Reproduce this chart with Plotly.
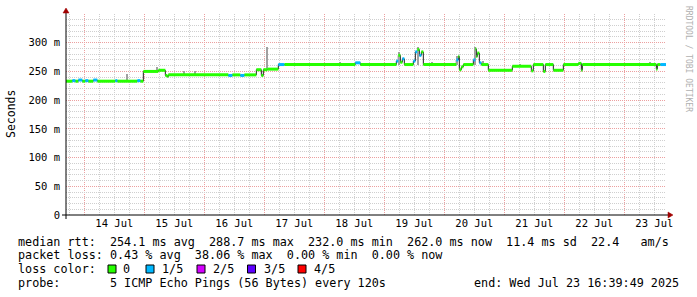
import plotly.graph_objects as go

# ---------------- data ----------------
START = "2025-07-13 16:39:49"
END = "2025-07-23 16:39:49"

# median rtt runs: start of run, median rtt (ms), lost pings out of 5
seg_start = [
    "2025-07-13 16:40", "2025-07-13 19:12", "2025-07-13 20:24", "2025-07-13 21:36",
    "2025-07-13 23:12", "2025-07-14 00:24", "2025-07-14 01:36", "2025-07-14 03:36",
    "2025-07-14 05:12", "2025-07-14 12:24", "2025-07-14 13:12", "2025-07-14 21:12",
    "2025-07-14 22:24", "2025-07-14 23:36", "2025-07-15 05:36", "2025-07-15 08:24",
    "2025-07-15 09:12", "2025-07-15 09:36", "2025-07-16 09:36", "2025-07-16 11:12",
    "2025-07-16 14:24", "2025-07-16 16:00", "2025-07-16 20:48", "2025-07-16 22:48",
    "2025-07-16 23:36", "2025-07-17 01:12", "2025-07-17 05:36", "2025-07-17 08:00",
    "2025-07-18 12:24", "2025-07-18 14:24", "2025-07-19 04:48", "2025-07-19 05:36",
    "2025-07-19 06:24", "2025-07-19 07:12", "2025-07-19 08:00", "2025-07-19 11:36",
    "2025-07-19 12:24", "2025-07-19 13:12", "2025-07-19 14:00", "2025-07-19 14:48",
    "2025-07-19 15:36", "2025-07-20 04:48", "2025-07-20 05:36", "2025-07-20 06:00",
    "2025-07-20 06:48", "2025-07-20 07:36", "2025-07-20 11:36", "2025-07-20 12:24",
    "2025-07-20 12:48", "2025-07-20 13:12", "2025-07-20 14:00", "2025-07-20 14:48",
    "2025-07-20 17:36", "2025-07-21 03:12", "2025-07-21 10:48", "2025-07-21 11:36",
    "2025-07-21 15:36", "2025-07-21 16:24", "2025-07-21 19:36", "2025-07-21 23:36",
    "2025-07-22 05:36", "2025-07-22 06:48", "2025-07-22 07:12", "2025-07-23 12:48",
    "2025-07-23 13:12", "2025-07-23 14:24",
]
seg_rtt = [
    233, 234, 233, 235,
    233, 234, 233, 235,
    233, 234, 233, 234,
    233, 250, 252, 243,
    241, 244, 243, 244,
    243, 244, 253, 243,
    253, 254, 262, 262,
    265, 262, 268, 278,
    266, 272, 262, 268,
    284, 288, 278, 284,
    262, 270, 276, 253,
    258, 262, 270, 289,
    276, 282, 265, 262,
    252, 259, 251, 262,
    250, 262, 252, 262,
    264, 252, 262, 254,
    262, 262,
]
seg_loss = [
    0, 1, 0, 1,
    0, 1, 0, 1,
    0, 1, 0, 1,
    0, 0, 0, 0,
    0, 0, 1, 0,
    1, 0, 0, 0,
    0, 0, 1, 0,
    1, 0, 1, 0,
    0, 1, 0, 1,
    1, 0, 1, 0,
    0, 1, 0, 0,
    0, 0, 1, 0,
    0, 0, 1, 0,
    0, 0, 0, 0,
    0, 0, 0, 0,
    0, 0, 0, 0,
    0, 1,
]

# smoke (spread of the individual pings), only where it sticks out
smoke_time = [
    "2025-07-14 17:12", "2025-07-15 05:12", "2025-07-15 16:00", "2025-07-15 20:24",
    "2025-07-17 01:12", "2025-07-17 11:36", "2025-07-18 06:24", "2025-07-19 06:00",
    "2025-07-19 13:36", "2025-07-19 19:12", "2025-07-20 01:36", "2025-07-20 05:12",
    "2025-07-20 12:24", "2025-07-20 15:36", "2025-07-21 06:24", "2025-07-23 10:24",
]
smoke_low = [233, 250, 244, 244, 254, 262, 262, 262, 262, 262, 262, 262, 262, 262, 259, 262]
smoke_high = [246, 257, 250, 251, 292, 265, 266, 283, 293, 266, 265, 277, 293, 268, 263, 266]

loss_labels = ["0", "1/5", "2/5", "3/5", "4/5"]
loss_colors = ["#26ff00", "#00b8ff", "#d400ff", "#5e00ff", "#ff0000"]

y_ticks = [0, 50, 100, 150, 200, 250, 300]
y_ticktext = ["0", "50 m", "100 m", "150 m", "200 m", "250 m", "300 m"]
x_label_days = ["2025-07-14 12:00", "2025-07-15 12:00", "2025-07-16 12:00", "2025-07-17 12:00",
                "2025-07-18 12:00", "2025-07-19 12:00", "2025-07-20 12:00", "2025-07-21 12:00",
                "2025-07-22 12:00", "2025-07-23 12:00"]
x_label_text = ["14 Jul", "15 Jul", "16 Jul", "17 Jul", "18 Jul",
                "19 Jul", "20 Jul", "21 Jul", "22 Jul", "23 Jul"]

legend_rows = [
    "median rtt:  254.1 ms avg  288.7 ms max  232.0 ms min  262.0 ms now  11.4 ms sd  22.4   am/s",
    "packet loss: 0.43 % avg  38.06 % max  0.00 % min  0.00 % now",
    "loss color:",
    "probe:       5 ICMP Echo Pings (56 Bytes) every 120s",
]
end_text = "end: Wed Jul 23 16:39:49 2025"

# ---------------- geometry ----------------
W, H = 697, 297
ML, MR, MT, MB = 66, 31, 14, 82
PW, PH = W - ML - MR, H - MT - MB
MONO = "DejaVu Sans Mono"
Y_MAX = 350
minor_y = [v for v in range(0, Y_MAX + 1, 10) if v % 50]


def px_x(p):  # pixel -> paper x
    return (p - ML) / PW


def px_y(p):  # pixel -> paper y
    return (H - MB - p) / PH


fig = go.Figure()

# dark thin median line (visible on the steps)
fig.add_trace(go.Scatter(
    x=seg_start + [END], y=seg_rtt + [seg_rtt[-1]],
    mode="lines", line=dict(color="#202020", width=1, shape="hv"),
    xaxis="x", yaxis="y", hoverinfo="skip", showlegend=False))

# smoke spikes
fig.add_trace(go.Bar(
    x=smoke_time, y=[h - l for h, l in zip(smoke_high, smoke_low)], base=smoke_low,
    width=[1440000] * len(smoke_time), marker=dict(color="#a0a0a0", line=dict(width=0)),
    xaxis="x2", yaxis="y2", hoverinfo="skip", showlegend=False))

# thick median coloured by loss
ends = seg_start[1:] + [END]
for lvl, col in enumerate(loss_colors):
    xs, ys = [], []
    for s, e, v, l in zip(seg_start, ends, seg_rtt, seg_loss):
        if l == lvl:
            xs += [s, e, None]
            ys += [v, v, None]
    if not xs:
        xs, ys = [None], [None]
    fig.add_trace(go.Scatter(
        x=xs, y=ys, mode="lines", line=dict(color=col, width=3),
        xaxis="x2", yaxis="y2", hoverinfo="skip", showlegend=False))

RED = "#eca0a0"
GRAY = "#cfcfcf"
DOT = "1px,1px"

fig.update_layout(
    width=W, height=H,
    margin=dict(l=ML, r=MR, t=MT, b=MB, pad=0),
    paper_bgcolor="white", plot_bgcolor="white",
    font=dict(family=MONO, size=10.5, color="#000000"),
    bargap=0,
    xaxis=dict(
        type="date", range=[START, END], showticklabels=False, ticks="",
        showgrid=True, gridcolor=RED, griddash=DOT, gridwidth=1,
        dtick=86400000, tick0="2025-07-14 00:00", zeroline=False, showline=False,
        minor=dict(dtick=21600000, tick0="2025-07-14 00:00", showgrid=True,
                   gridcolor=GRAY, griddash=DOT, gridwidth=1),
    ),
    xaxis2=dict(
        type="date", range=[START, END], overlaying="x", anchor="y2", side="bottom",
        tickmode="array", tickvals=x_label_days, ticktext=x_label_text,
        showgrid=False, ticks="", zeroline=False, showline=False,
        tickfont=dict(family=MONO, size=10.5, color="#000000"),
    ),
    yaxis=dict(
        range=[0, Y_MAX], tickmode="array", tickvals=minor_y, showticklabels=False,
        showgrid=True, gridcolor=GRAY, griddash=DOT, gridwidth=1,
        ticks="", zeroline=False, showline=False,
    ),
    yaxis2=dict(
        range=[0, Y_MAX], overlaying="y", anchor="x", side="left",
        tickmode="array", tickvals=y_ticks, ticktext=y_ticktext,
        showgrid=True, gridcolor=RED, griddash=DOT, gridwidth=1,
        ticks="", ticklabelstandoff=5, zeroline=False, showline=False,
        tickfont=dict(family=MONO, size=10.5, color="#000000"),
    ),
)

shapes = []
# axis lines
shapes.append(dict(type="line", xref="paper", yref="paper", x0=px_x(62), x1=px_x(669),
                   y0=0, y1=0, line=dict(color="#000000", width=1), layer="above"))
shapes.append(dict(type="line", xref="paper", yref="paper", x0=0, x1=0,
                   y0=px_y(219), y1=px_y(12), line=dict(color="#000000", width=1), layer="above"))
# arrow heads
ax_t = f"M {px_x(63)},{px_y(13)} L {px_x(69)},{px_y(13)} L {px_x(66)},{px_y(8)} Z"
shapes.append(dict(type="path", xref="paper", yref="paper", path=ax_t,
                   fillcolor="#a00000", line=dict(color="#a00000", width=0.5), layer="above"))
ax_r = f"M {px_x(668)},{px_y(212)} L {px_x(668)},{px_y(218)} L {px_x(673)},{px_y(215)} Z"
shapes.append(dict(type="path", xref="paper", yref="paper", path=ax_r,
                   fillcolor="#a00000", line=dict(color="#a00000", width=0.5), layer="above"))

annotations = []
# y title
annotations.append(dict(text="Seconds", xref="paper", yref="paper", x=px_x(11), y=px_y(114),
                        textangle=-90, showarrow=False, xanchor="center", yanchor="middle",
                        font=dict(family=MONO, size=11.5, color="#000000")))
# watermark
annotations.append(dict(text="RRDTOOL / TOBI OETIKER", xref="paper", yref="paper",
                        x=px_x(688), y=px_y(59), textangle=90, showarrow=False,
                        xanchor="center", yanchor="middle",
                        font=dict(family=MONO, size=8, color="#b0b0b0")))
# legend text rows
row_y = [241.7, 255.3, 269.0, 282.7]
for txt, yy in zip(legend_rows, row_y):
    annotations.append(dict(text=txt.replace(" ", "\u00a0"), xref="paper", yref="paper",
                            x=px_x(16), y=px_y(yy), xanchor="left", yanchor="middle",
                            showarrow=False, font=dict(family=MONO, size=11.75, color="#000000")))
annotations.append(dict(text=end_text.replace(" ", "\u00a0"), xref="paper", yref="paper",
                        x=px_x(681), y=px_y(row_y[3]), xanchor="right", yanchor="middle",
                        showarrow=False, font=dict(family=MONO, size=11.75, color="#000000")))
# loss colour swatches
sw_x = [108, 146, 197, 247.5, 298]
lab_x = [121, 160, 210.5, 261.5, 312]
for sx, lx, col, lab in zip(sw_x, lab_x, loss_colors, loss_labels):
    shapes.append(dict(type="rect", xref="paper", yref="paper",
                       x0=px_x(sx), x1=px_x(sx + 8), y0=px_y(273), y1=px_y(265),
                       fillcolor=col, line=dict(color="#000000", width=1), layer="above"))
    annotations.append(dict(text=lab, xref="paper", yref="paper", x=px_x(lx), y=px_y(row_y[2]),
                            xanchor="left", yanchor="middle", showarrow=False,
                            font=dict(family=MONO, size=11.75, color="#000000")))

fig.update_layout(shapes=shapes, annotations=annotations)
fig.write_html("out.html")
